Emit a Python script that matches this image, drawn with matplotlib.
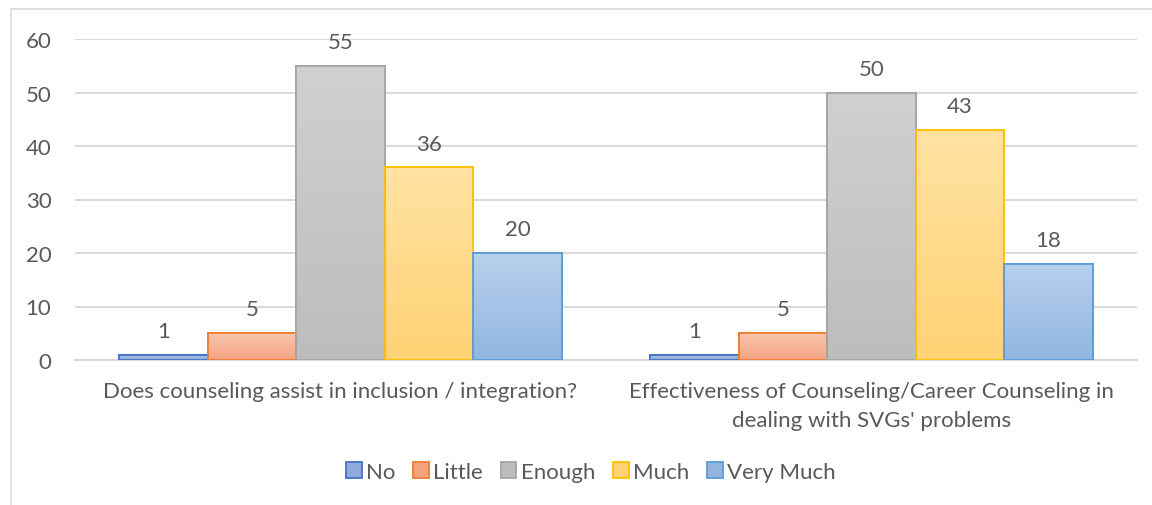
import numpy as np
import matplotlib
matplotlib.use("Agg")
import matplotlib.pyplot as plt
from matplotlib.colors import LinearSegmentedColormap
from matplotlib.patches import Rectangle

categories = [
    "Does counseling assist in inclusion / integration?",
    "Effectiveness of Counseling/Career Counseling in\ndealing with SVGs' problems",
]
series_names = ["No", "Little", "Enough", "Much", "Very Much"]
no_vals = [1, 1]
little_vals = [5, 5]
enough_vals = [55, 50]
much_vals = [36, 43]
very_much_vals = [20, 18]

edge_colors = ["#4472C4", "#ED7D31", "#A5A5A5", "#FFC000", "#5B9BD5"]
grad_top = ["#b0bfe6", "#f8c5ae", "#d0d0d0", "#ffe3a3", "#b7d0ec"]
grad_bottom = ["#8faadc", "#f4a380", "#bdbdbd", "#ffd274", "#92b6e0"]

plt.rcParams["font.family"] = ["Lato", "DejaVu Sans"]
text_color = "#595959"
fs = 16

fig = plt.figure(figsize=(11.52, 5.06), dpi=100)
ax = fig.add_axes([75 / 1152, 1 - 361 / 506, (1137 - 75) / 1152, (361 - 40) / 506])

values = [no_vals, little_vals, enough_vals, much_vals, very_much_vals]
x = np.arange(len(categories))
n = len(series_names)
width = 1.0 / (n + 1)

for i, (name, vals) in enumerate(zip(series_names, values)):
    offs = x + (i - (n - 1) / 2) * width
    bars = ax.bar(offs, vals, width=width, color=grad_bottom[i],
                  edgecolor=edge_colors[i], linewidth=1.3, label=name, zorder=3)
    cmap = LinearSegmentedColormap.from_list(f"g{i}", [grad_bottom[i], grad_top[i]])
    for b, v in zip(bars, vals):
        x0, y0 = b.get_x(), b.get_y()
        w, h = b.get_width(), b.get_height()
        grad = np.linspace(0, 1, 100).reshape(-1, 1)
        im = ax.imshow(grad, cmap=cmap, origin="lower", aspect="auto",
                       extent=[x0, x0 + w, y0, y0 + h], zorder=3.5)
        im.set_clip_path(b)
        edge = Rectangle((x0, y0), w, h, fill=False, edgecolor=edge_colors[i],
                         linewidth=1.3, zorder=4)
        ax.add_patch(edge)
        ax.annotate(str(v), (x0 + w / 2, v), xytext=(0, 10), textcoords="offset points",
                    ha="center", va="bottom", fontsize=fs, color=text_color)

ax.set_xlim(-0.5, len(categories) - 0.5)
ax.set_ylim(0, 60)
ax.set_yticks(range(0, 61, 10))
ax.set_xticks(x)
ax.set_xticklabels(categories, fontsize=fs, color=text_color, linespacing=1.55)
ax.tick_params(axis="y", labelsize=fs, labelcolor=text_color, length=0, pad=17)
ax.tick_params(axis="x", length=0, pad=15)
ax.grid(axis="y", color="#d9d9d9", linewidth=1.5, zorder=0)
ax.set_axisbelow(True)
for s in ["top", "right", "left"]:
    ax.spines[s].set_visible(False)
ax.spines["bottom"].set_color("#d9d9d9")
ax.spines["bottom"].set_linewidth(1.5)

handles, labels = ax.get_legend_handles_labels()
leg = fig.legend(handles, labels, loc="center", bbox_to_anchor=(591 / 1152, 1 - 473 / 506),
                 ncol=5, frameon=False, fontsize=fs, handlelength=0.7, handleheight=0.7,
                 handletextpad=0.2, columnspacing=0.8)
for t in leg.get_texts():
    t.set_color(text_color)

# outer chart border (only left/top visible in the frame)
fig.patches.append(Rectangle((11 / 1152, -0.1), 1.2, 1 - 10 / 506 + 0.1,
                             transform=fig.transFigure, fill=False,
                             edgecolor="#d9d9d9", linewidth=1.2))

fig.savefig("out.png", dpi=100)
